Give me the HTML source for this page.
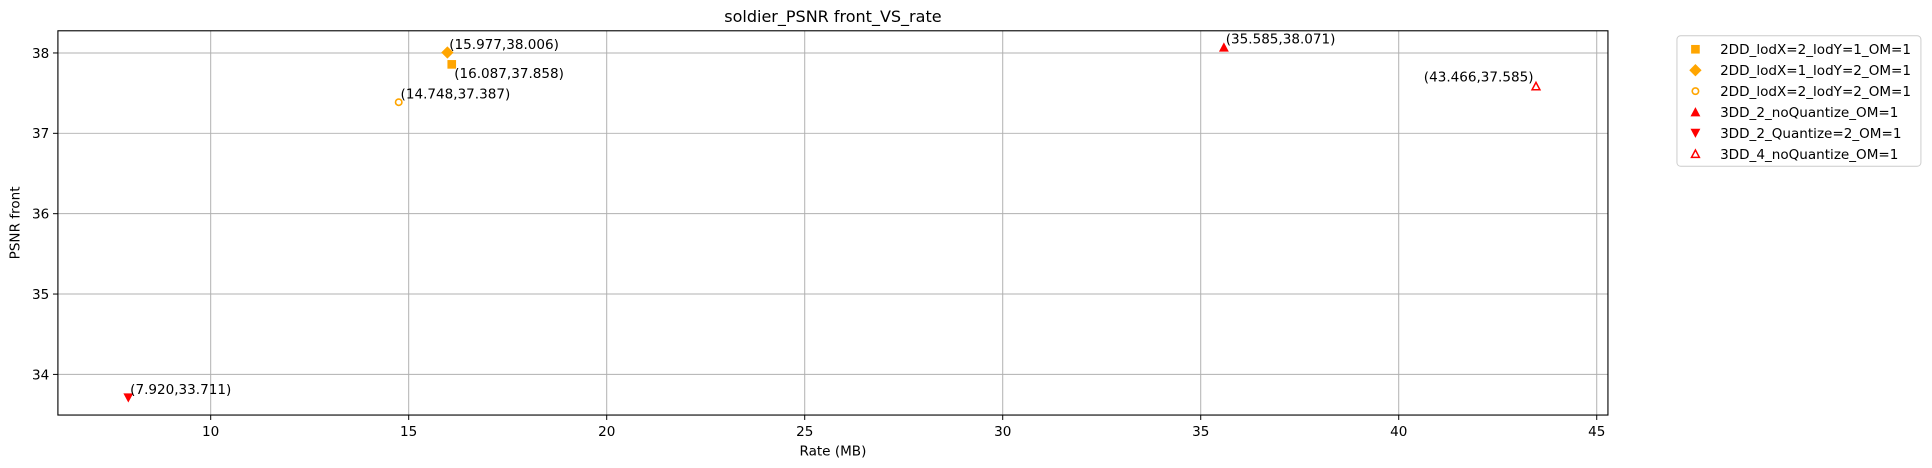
<!DOCTYPE html>
<html><head><meta charset="utf-8"><style>
body{margin:0;background:#fff;}
svg{display:block;}
svg text{font-family:"DejaVu Sans","Liberation Sans",sans-serif;font-size:11px;fill:#000;}
</style></head><body>
<svg id="chart" width="1932" height="468" viewBox="0 0 1568 380" preserveAspectRatio="none" xmlns="http://www.w3.org/2000/svg">
<text x="676" y="18" text-anchor="middle" style="font-size:13px">soldier_PSNR front_VS_rate</text>
<g id="grid"></g>
<rect x="47" y="25" width="1258" height="312" fill="none" stroke="#000" stroke-width="0.9"/>
<g id="ticks"></g>
<g id="marks"></g>
<text x="676" y="370" text-anchor="middle">Rate (MB)</text>
<text transform="translate(16,181) rotate(-90)" text-anchor="middle">PSNR front</text>
<g id="legend"><rect x="1361" y="29" width="198" height="106" rx="3" fill="#fff" stroke="#ccc" stroke-width="0.8"/></g>
</svg>
<script>
const seriesNames=["2DD_lodX=2_lodY=1_OM=1","2DD_lodX=1_lodY=2_OM=1","2DD_lodX=2_lodY=2_OM=1","3DD_2_noQuantize_OM=1","3DD_2_Quantize=2_OM=1","3DD_4_noQuantize_OM=1"];
const rates=[16.087,15.977,14.748,35.585,7.920,43.466];
const psnr=[37.858,38.006,37.387,38.071,33.711,37.585];
const xTicks=[10,15,20,25,30,35,40,45];
const yTicks=[34,35,36,37,38];
const markers=["square","diamond","circle","triangle","triangle-down","triangle-open"];
const colors=["orange","orange","orange","red","red","red"];
const NS="http://www.w3.org/2000/svg";
const X=v=>171+(v-10)*32.14;
const Y=v=>43+(38-v)*65.25;
function mk(tag,attrs,parent){const e=document.createElementNS(NS,tag);for(const k in attrs)e.setAttribute(k,attrs[k]);parent.appendChild(e);return e;}
const grid=document.getElementById('grid'),ticks=document.getElementById('ticks'),marks=document.getElementById('marks'),legend=document.getElementById('legend');
xTicks.forEach(t=>{const x=X(t);
 let g=mk('line',{x1:x,x2:x,y1:25,y2:337,stroke:'#b0b0b0','stroke-width':0.8},grid);
 
 
 mk('line',{x1:x,x2:x,y1:337,y2:341,stroke:'#000','stroke-width':0.8},ticks);
 let tx=mk('text',{x:x,y:354,'text-anchor':'middle'},ticks);tx.textContent=t;
 
 });
yTicks.forEach(t=>{const y=Y(t);
 let g=mk('line',{x1:47,x2:1305,y1:y,y2:y,stroke:'#b0b0b0','stroke-width':0.8},grid);
 
 
 mk('line',{x1:43,x2:47,y1:y,y2:y,stroke:'#000','stroke-width':0.8},ticks);
 let tx=mk('text',{x:40,y:y+4,'text-anchor':'end'},ticks);tx.textContent=t;
 
 });
function marker(type,x,y,c,parent){
 const s=3.5;let e;
 if(type==='square')e=mk('rect',{x:x-s,y:y-s,width:2*s,height:2*s,fill:c},parent);
 else if(type==='diamond')e=mk('polygon',{points:`${x},${y-5} ${x+5},${y} ${x},${y+5} ${x-5},${y}`,fill:c},parent);
 else if(type==='circle')e=mk('circle',{cx:x,cy:y,r:2.6,fill:'none',stroke:c,'stroke-width':1.3},parent);
 else if(type==='triangle')e=mk('polygon',{points:`${x},${y-4} ${x+4},${y+3.5} ${x-4},${y+3.5}`,fill:c},parent);
 else if(type==='triangle-down')e=mk('polygon',{points:`${x},${y+4} ${x+4},${y-3.5} ${x-4},${y-3.5}`,fill:c},parent);
 else e=mk('polygon',{points:`${x},${y-3.2} ${x+3.2},${y+2.8} ${x-3.2},${y+2.8}`,fill:'none',stroke:c,'stroke-width':1.2},parent);
 return e;}
rates.forEach((r,i)=>{const x=X(r),y=Y(psnr[i]);
 const m=marker(markers[i],x,y,colors[i],marks);
 
 
 let lx=x+1.5,ly=y-3,anc='start';
 if(i===0){ly=y+11;lx=x+2;}
 if(i===5){lx=x-2;anc='end';ly=y-4;}
 const t=mk('text',{x:lx,y:ly,'text-anchor':anc},marks);
 t.textContent='('+r.toFixed(3)+','+psnr[i].toFixed(3)+')';
 
 });
seriesNames.forEach((n,i)=>{const y=40+i*17;
 const g=mk('g',{},legend);
 
 
 marker(markers[i],1376,y,colors[i],g);
 const t=mk('text',{x:1396,y:y+4},g);t.textContent=n;});
</script>
</body></html>
